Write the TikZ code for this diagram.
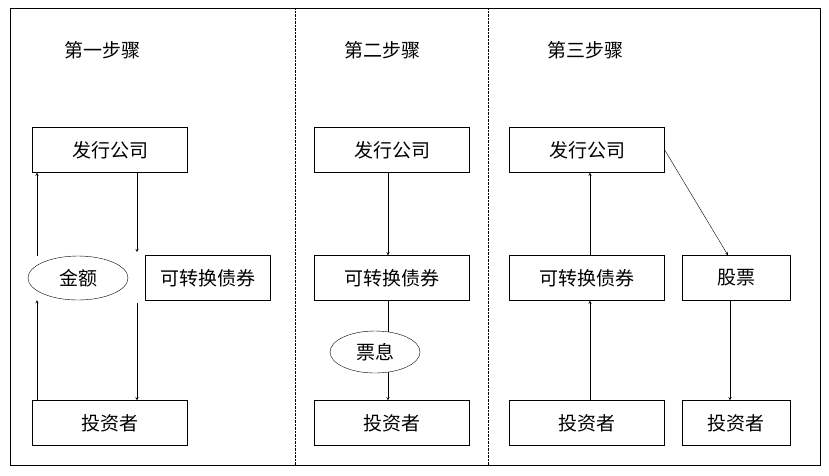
\documentclass[tikz,border=0pt]{standalone}
\usepackage{fontspec}
\setmainfont{Noto Sans CJK SC}
\usetikzlibrary{shapes.geometric}
\tikzset{%
	step box/.style={
		draw,
		minimum width=155pt,
		minimum height=45pt,
		inner sep=0pt
	},
	small box/.style={
		draw,
		minimum width=125pt,
		minimum height=45pt,
		inner sep=0pt
	},
	cash/.style={
		ellipse,
		draw,
		minimum width=100pt,
		minimum height=44pt,
		fill=white,
		inner sep=0pt
	},
	title/.style={
		font=\fontsize{19}{22}\selectfont
	},
}

\begin{document}
\begin{tikzpicture}[x=1pt, y=-1pt, >=stealth, font=\fontsize{19}{22}\selectfont]
	
	\useasboundingbox (0,0) rectangle (829,475);
	\draw (10,8) rectangle (820,465);
	\draw [densely dotted] (295,8) -- (295,465);
	\draw [densely dotted] (488,8) -- (488,465);
	
	% first step
	\node [title] (title-1) at (102,50) {第一步骤};
	\node [step box] (issuer-1) at (110,150) {发行公司};
	\node [cash] (amount-1) at (78,278) {金额};
	\node [small box] (bond-1) at (208,278) {可转换债券};
	\node [step box] (investor-1) at (110,423) {投资者};
	\draw [->] (investor-1.north -| 37,0) -- (amount-1.south -| 37,0);
	\draw [->] (amount-1.north -| 37,0) -- (issuer-1.south -| 37,0);
	\coordinate (down-1a) at (137,252);
	\coordinate (down-1b) at (137,303);
	\draw [->] (issuer-1.south -| 137,0) -- (down-1a);
	\draw [->] (down-1b) -- (investor-1.north -| 137,0);
	
	% second step
	\node [title] (title-2) at (382,50) {第二步骤};
	\node [step box] (issuer-2) at (392,150) {发行公司};
	\node [step box] (bond-2) at (392,278) {可转换债券};
	\node [step box] (investor-2) at (392,423) {投资者};
	\draw [->] (issuer-2.south -| 388,0) -- (bond-2.north -| 388,0);
	\draw [->] (bond-2.south -| 388,0) -- (investor-2.north -| 388,0);
	\node [cash, minimum width=90pt, minimum height=42pt] (coupon-2) at (375,352) {票息};
	
	% third step
	\node [title] (title-3) at (585,50) {第三步骤};
	\node [step box] (issuer-3) at (587,150) {发行公司};
	\node [step box] (bond-3) at (587,278) {可转换债券};
	\node [step box, minimum width=108pt] (stock-3) at (736,278) {股票};
	\node [step box] (investor-3a) at (587,423) {投资者};
	\node [step box, minimum width=108pt] (investor-3b) at (736,423) {投资者};
	\draw [->] (investor-3a.north -| 590,0) -- (bond-3.south -| 590,0);
	\draw [->] (bond-3.north -| 590,0) -- (issuer-3.south -| 590,0);
	\draw [->] (issuer-3.east) -- (stock-3.north -| 728,0);
	\draw [->] (stock-3.south -| 730,0) -- (investor-3b.north -| 730,0);
	
\end{tikzpicture}
\end{document}
